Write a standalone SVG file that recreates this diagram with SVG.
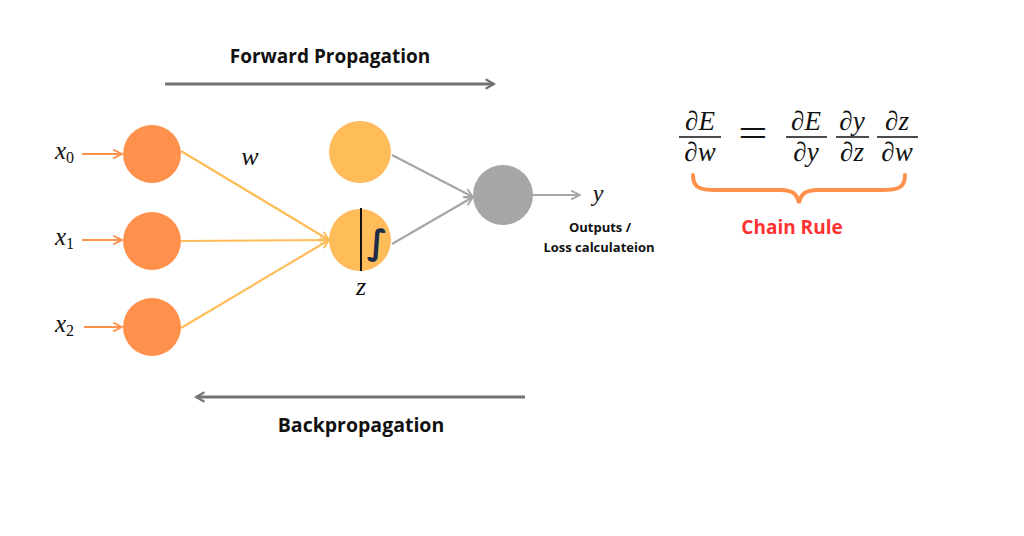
<svg xmlns="http://www.w3.org/2000/svg" width="1024" height="536" viewBox="0 0 1024 536">
<style>
.lbl{font-family:"Open Sans","Liberation Sans",sans-serif;font-weight:bold;fill:#111}
.math{font-family:"Liberation Serif","DejaVu Serif",serif;font-style:italic;fill:#111}
.inp{fill:#FF914D}
.hid{fill:#FFBD59}
.out{fill:#A6A6A6}
.w{stroke:#FFBD59;stroke-width:2.2;fill:none}
.g{stroke:#A6A6A6;stroke-width:2.2;fill:none}
.o{stroke:#FF914D;stroke-width:2.2;fill:none}
.big{stroke:#737373;stroke-width:3;fill:none}
.fl{stroke:#111;stroke-width:1.3}
</style>
<defs>
<marker id="aw" viewBox="0 0 10 10" refX="9" refY="5" markerWidth="5" markerHeight="5" orient="auto" markerUnits="strokeWidth"><path d="M1,1 L9,5 L1,9" fill="none" stroke="#FFBD59" stroke-width="1.6"/></marker>
<marker id="ag" viewBox="0 0 10 10" refX="9" refY="5" markerWidth="5" markerHeight="5" orient="auto" markerUnits="strokeWidth"><path d="M1,1 L9,5 L1,9" fill="none" stroke="#A6A6A6" stroke-width="1.6"/></marker>
<marker id="ao" viewBox="0 0 10 10" refX="9" refY="5" markerWidth="5" markerHeight="5" orient="auto" markerUnits="strokeWidth"><path d="M1,1 L9,5 L1,9" fill="none" stroke="#FF914D" stroke-width="1.6"/></marker>
<marker id="ab" viewBox="0 0 10 10" refX="8" refY="5" markerWidth="4" markerHeight="4" orient="auto" markerUnits="strokeWidth"><path d="M1,1 L8,5 L1,9" fill="none" stroke="#737373" stroke-width="1.8"/></marker>
</defs>
<rect width="1024" height="536" fill="#fff"/>

<g id="connectors">
<line class="o" x1="82" y1="154" x2="122" y2="154" marker-end="url(#ao)"/>
<line class="o" x1="82" y1="240" x2="122" y2="240" marker-end="url(#ao)"/>
<line class="o" x1="84" y1="327" x2="122" y2="327" marker-end="url(#ao)"/>
<line class="w" x1="181" y1="151" x2="329" y2="240" marker-end="url(#aw)"/>
<line class="w" x1="181" y1="241" x2="329" y2="240" marker-end="url(#aw)"/>
<line class="w" x1="181" y1="328" x2="329" y2="240" marker-end="url(#aw)"/>
<line class="g" x1="392" y1="155" x2="473" y2="197" marker-end="url(#ag)"/>
<line class="g" x1="392" y1="244" x2="473" y2="197" marker-end="url(#ag)"/>
<line class="g" x1="533" y1="195" x2="580" y2="195" marker-end="url(#ag)"/>
<line class="big" x1="165" y1="84" x2="494" y2="84" marker-end="url(#ab)"/>
<line class="big" x1="525" y1="397" x2="196" y2="397" marker-end="url(#ab)"/>
</g>

<g id="x0"><text class="math" x="55" y="159" font-size="25">x<tspan font-style="normal" font-size="16" dy="4">0</tspan></text><circle class="inp" cx="152" cy="154" r="29"/></g>
<g id="x1"><text class="math" x="55" y="245" font-size="25">x<tspan font-style="normal" font-size="16" dy="4">1</tspan></text><circle class="inp" cx="152" cy="241" r="29"/></g>
<g id="x2"><text class="math" x="55" y="332" font-size="25">x<tspan font-style="normal" font-size="16" dy="4">2</tspan></text><circle class="inp" cx="152" cy="327" r="29"/></g>
<g id="w"><text class="math" x="250" y="165" font-size="26" text-anchor="middle">w</text></g>
<g id="h1"><circle class="hid" cx="360" cy="152" r="31"/></g>
<g id="h2"><circle class="hid" cx="360" cy="240" r="31"/><line x1="361" y1="208" x2="361" y2="271" stroke="#111" stroke-width="2"/><text x="377" y="254" font-family="DejaVu Sans,sans-serif" font-weight="bold" font-size="34" fill="#1C2D4A" text-anchor="middle">∫</text><text class="math" x="361" y="295" font-size="26" text-anchor="middle">z</text></g>
<g id="out"><circle class="out" cx="503" cy="195" r="30"/><text class="math" x="598" y="201" font-size="24" text-anchor="middle">y</text>
<text class="lbl" x="600" y="232" font-size="13" text-anchor="middle">Outputs /</text>
<text class="lbl" x="599" y="252" font-size="13" text-anchor="middle">Loss calculateion</text></g>
<g id="fwd"><text class="lbl" x="330" y="63" font-size="19" text-anchor="middle">Forward Propagation</text></g>
<g id="bwd"><text class="lbl" x="361" y="432" font-size="19.5" text-anchor="middle">Backpropagation</text></g>

<g id="equation">
<text class="math" font-size="27" text-anchor="middle"><tspan x="700" y="130">∂E</tspan><tspan x="700" y="161">∂w</tspan></text>
<line class="fl" x1="679" y1="137" x2="721" y2="137"/>
<text x="753" y="147" font-family="Liberation Serif,serif" font-size="40" text-anchor="middle" fill="#111" transform="translate(753 0) scale(1.3 1) translate(-753 0)">=</text>
<text class="math" font-size="27" text-anchor="middle"><tspan x="806" y="130">∂E</tspan><tspan x="806" y="161">∂y</tspan></text>
<line class="fl" x1="786" y1="137" x2="827" y2="137"/>
<text class="math" font-size="27" text-anchor="middle"><tspan x="852" y="130">∂y</tspan><tspan x="852" y="161">∂z</tspan></text>
<line class="fl" x1="836" y1="137" x2="869" y2="137"/>
<text class="math" font-size="27" text-anchor="middle"><tspan x="897" y="130">∂z</tspan><tspan x="897" y="161">∂w</tspan></text>
<line class="fl" x1="877" y1="137" x2="918" y2="137"/>
<path d="M693,175 C693,188 700,190 716,190 L780,190 C793,190 797,194 799,203 C801,194 805,190 818,190 L882,190 C898,190 905,188 905,175" fill="none" stroke="#FF914D" stroke-width="4" stroke-linecap="round"/>
<text x="792" y="234" font-family="Open Sans,Liberation Sans,sans-serif" font-weight="bold" font-size="19" fill="#FF3131" text-anchor="middle">Chain Rule</text>
</g>
</svg>
